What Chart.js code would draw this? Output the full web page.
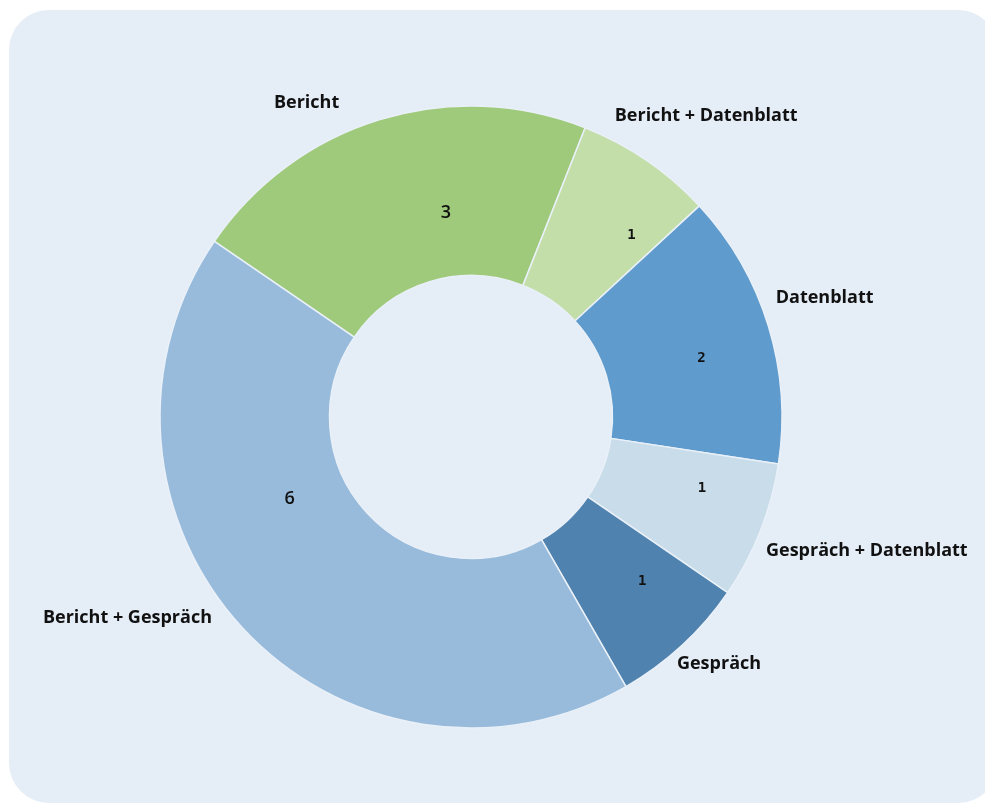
<!DOCTYPE html>
<html>
<head>
<meta charset="utf-8">
<script src="https://cdn.jsdelivr.net/npm/chart.js@4"></script>
<style>
    body { margin: 0; background: #ffffff; width: 985px; height: 807px; overflow: hidden; position: relative; }
    #panel { position: absolute; left: 9px; top: 10px; width: 989px; height: 793px; background: #e5edf7; border-radius: 40px; }
    #chart { position: absolute; left: 0; top: 0; }
</style>
</head>
<body>
<div id="panel"></div>
<canvas id="chart" width="985" height="807"></canvas>
<script>
const categories = [
    'Bericht',
    'Bericht + Datenblatt',
    'Datenblatt',
    'Gespräch + Datenblatt',
    'Gespräch',
    'Bericht + Gespräch'
];

const counts = [3, 1, 2, 1, 1, 6];

const colors = ['#9fca7b', '#c3dea9', '#5f9bcd', '#c9dcea', '#4f82ae', '#98bbdc'];

// label placement: angle shift (deg) from slice middle, radius as part of outer radius
const valuePlace = [[10, 0.66], [7, 0.78], [2.7, 0.765], [-4.3, 0.778], [-3.5, 0.762], [18.4, 0.64]];
const namePlace = [[-10.6, 1.14], [3.6, 1.228], [-1.6, 1.2], [-2.8, 1.344], [-2.4, 1.125], [12.4, 1.28]];
const valueFonts = [
    '600 18px "Open Sans"', 'bold 14px "DejaVu Sans Mono"', 'bold 14px "DejaVu Sans Mono"',
    'bold 14px "DejaVu Sans Mono"', 'bold 14px "DejaVu Sans Mono"', '600 18px "Open Sans"'
];

const sliceLabels = {
    id: 'sliceLabels',
    afterDatasetsDraw(chart) {
        const ctx = chart.ctx;
        const meta = chart.getDatasetMeta(0);
        ctx.save();
        ctx.fillStyle = '#111111';
        ctx.textAlign = 'center';
        ctx.textBaseline = 'middle';
        meta.data.forEach((arc, i) => {
            const mid = (arc.startAngle + arc.endAngle) / 2;
            let a = mid + valuePlace[i][0] * Math.PI / 180;
            let r = arc.outerRadius * valuePlace[i][1];
            ctx.font = valueFonts[i];
            ctx.fillText(String(counts[i]), arc.x + Math.cos(a) * r, arc.y + Math.sin(a) * r);

            a = mid + namePlace[i][0] * Math.PI / 180;
            r = arc.outerRadius * namePlace[i][1];
            ctx.font = 'bold 18px "Open Sans"';
            ctx.fillText(categories[i], arc.x + Math.cos(a) * r, arc.y + Math.sin(a) * r);
        });
        ctx.restore();
    }
};

const config = {
    type: 'doughnut',
    data: {
        labels: categories,
        datasets: [{
            data: counts,
            backgroundColor: colors,
            borderColor: '#e9f0f8',
            borderWidth: 1.5
        }]
    },
    options: {
        responsive: false,
        animation: false,
        rotation: -55.6,
        radius: 311,
        cutout: '45.5%',
        layout: {
            padding: { left: 0, right: 43, top: 27, bottom: 0 }
        },
        plugins: {
            legend: { display: false },
            tooltip: { enabled: false }
        }
    },
    plugins: [sliceLabels]
};

window.onload = () => {
    let ctx = document.getElementById('chart').getContext('2d');
    window.myChart = new Chart(ctx, config);
};
</script>
</body>
</html>
